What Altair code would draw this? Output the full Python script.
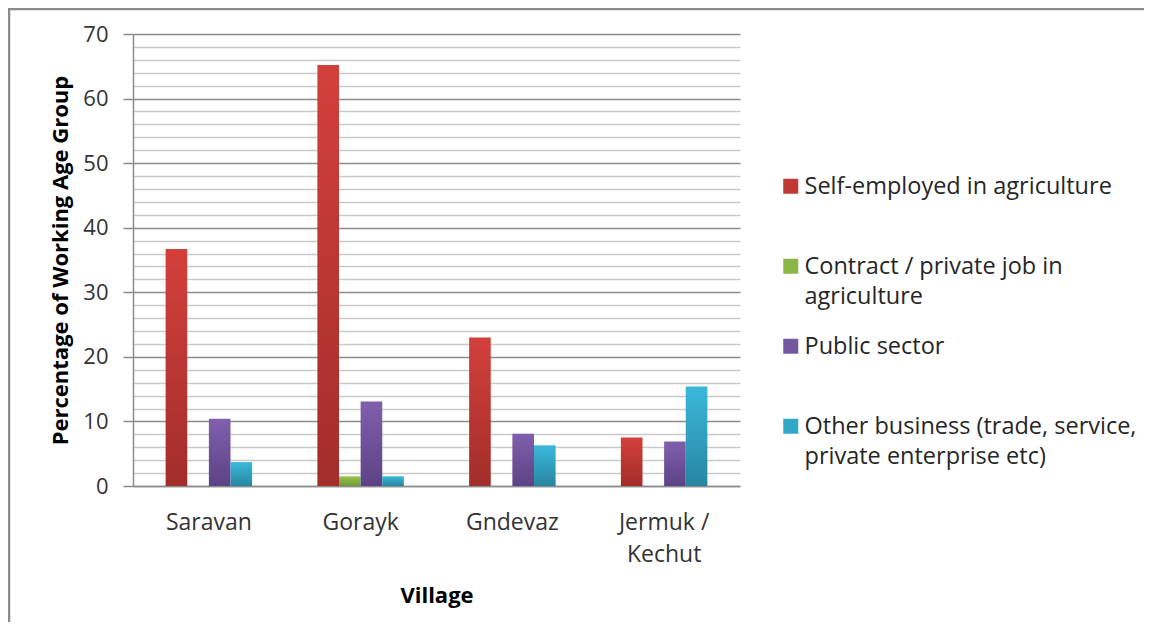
import altair as alt
import pandas as pd

villages = ["Saravan", "Gorayk", "Gndevaz", "Jermuk / Kechut"]
series = [
    "Self-employed in agriculture",
    "Contract / private job in agriculture",
    "Public sector",
    "Other business (trade, service, private enterprise etc)",
]
self_employed = [36.7, 65.2, 23.0, 7.5]
contract_private = [0.0, 1.5, 0.0, 0.0]
public_sector = [10.4, 13.1, 8.1, 6.9]
other_business = [3.7, 1.5, 6.3, 15.4]

legend_lines = [
    ["Self-employed in agriculture", " "],
    ["Contract / private job in", "agriculture"],
    ["Public sector", " "],
    ["Other business (trade, service,", "private enterprise etc)"],
]
y_tick_values = [0, 2, 4, 6, 8, 10, 12, 14, 16, 18, 20, 22, 24, 26, 28, 30, 32, 34,
                 36, 38, 40, 42, 44, 46, 48, 50, 52, 54, 56, 58, 60, 62, 64, 66, 68, 70]

solid_colors = ["#BF3A35", "#8BB547", "#7457A1", "#32A8C9"]
top_colors = ["#D3403B", "#97C44C", "#8060AD", "#3BB8DA"]
bottom_colors = ["#A22D2A", "#6F9838", "#5C4285", "#2786A2"]

values_by_series = [self_employed, contract_private, public_sector, other_business]
rows = []
for s, vals in zip(series, values_by_series):
    for v, val in zip(villages, vals):
        rows.append({"village": v, "series": s, "value": val})
df = pd.DataFrame(rows)

FONT = "Open Sans"
GRID_MAJOR = "#8c8c8c"
GRID_MINOR = "#c9c9c9"


def grad(top, bottom):
    return {
        "gradient": "linear", "x1": 0, "y1": 0, "x2": 0, "y2": 1,
        "stops": [{"offset": 0, "color": top}, {"offset": 1, "color": bottom}],
    }


def js_list(items):
    return "[" + ", ".join("'" + t + "'" for t in items) + "]"


legend_expr = "datum.label"
for s, lines in reversed(list(zip(series, legend_lines))):
    legend_expr = f"datum.label === '{s}' ? {js_list(lines)} : ({legend_expr})"

color_conditions = [
    {"test": f"datum.series === '{s}'", "value": grad(t, b)}
    for s, t, b in zip(series, top_colors, bottom_colors)
]

major = "datum.value % 10 === 0"

bars = alt.Chart(df).mark_bar().encode(
    x=alt.X(
        "village:N",
        sort=villages,
        scale=alt.Scale(paddingInner=0.43, paddingOuter=0.215),
        axis=alt.Axis(
            title="Village", labelAngle=0, ticks=False, tickSize=0, labelPadding=25,
            labelFont=FONT, labelFontSize=23, labelColor="#333333", labelLineHeight=32,
            labelExpr="indexof(datum.label, ' / ') > 0 ? [split(datum.label, ' / ')[0] + ' /', split(datum.label, ' / ')[1]] : datum.label",
            domainColor=GRID_MAJOR, domainWidth=1.5,
            titleFont=FONT, titleFontSize=22, titleFontWeight="bold", titleColor="#000000",
            titleY=116, titleBaseline="alphabetic",
        ),
    ),
    xOffset=alt.XOffset("series:N", sort=series,
                        scale=alt.Scale(domain=series, paddingInner=0, paddingOuter=0)),
    y=alt.Y(
        "value:Q",
        scale=alt.Scale(domain=[0, 70], nice=False),
        axis=alt.Axis(
            values=y_tick_values,
            title="Percentage of Working Age Group",
            labelExpr=f"{major} ? datum.label : ''",
            grid=True,
            gridColor={"condition": {"test": major, "value": GRID_MAJOR}, "value": GRID_MINOR},
            gridWidth=1.5,
            tickOpacity={"condition": {"test": major, "value": 1}, "value": 0},
            tickSize=10, tickColor=GRID_MAJOR, tickWidth=1.5,
            domainColor=GRID_MAJOR, domainWidth=1.5,
            labelPadding=15, labelFont=FONT, labelFontSize=22, labelColor="#333333",
            titleFont=FONT, titleFontSize=22, titleFontWeight="bold", titleColor="#000000",
            titleAngle=270, titleX=-66, titleY=226, titleBaseline="alphabetic", titleAlign="center",
        ),
    ),
    color=alt.Color(
        "series:N",
        sort=series,
        scale=alt.Scale(domain=series, range=solid_colors),
        condition=color_conditions,
        legend=alt.Legend(
            title=None, orient="none", legendX=646, legendY=148, padding=0,
            symbolType="M-1,-2H1V0H-1Z", symbolSize=225, symbolStrokeWidth=0,
            labelFont=FONT, labelFontSize=23.5, labelColor="#262626",
            labelBaseline="alphabetic", labelOffset=2,
            rowPadding=25, labelLimit=450, labelExpr=legend_expr,
        ),
    ),
)

frame = alt.Chart(pd.DataFrame({"f": [0]})).mark_rect(
    filled=False, stroke="#8c8c8c", strokeWidth=2.5
).encode(
    x=alt.value(-124), x2=alt.value(3000), y=alt.value(-25), y2=alt.value(3000)
)

chart = alt.layer(frame, bars).properties(
    width=607,
    height=452,
    autosize=alt.AutoSizeParams(type="none"),
    padding={"left": 125, "top": 26, "right": 404, "bottom": 136},
    background="white",
).configure(
    font=FONT,
    style={"guide-label": {"lineHeight": 30}},
).configure_view(stroke="transparent")

chart.save("out.html", embed_options={"renderer": "svg", "actions": False})
